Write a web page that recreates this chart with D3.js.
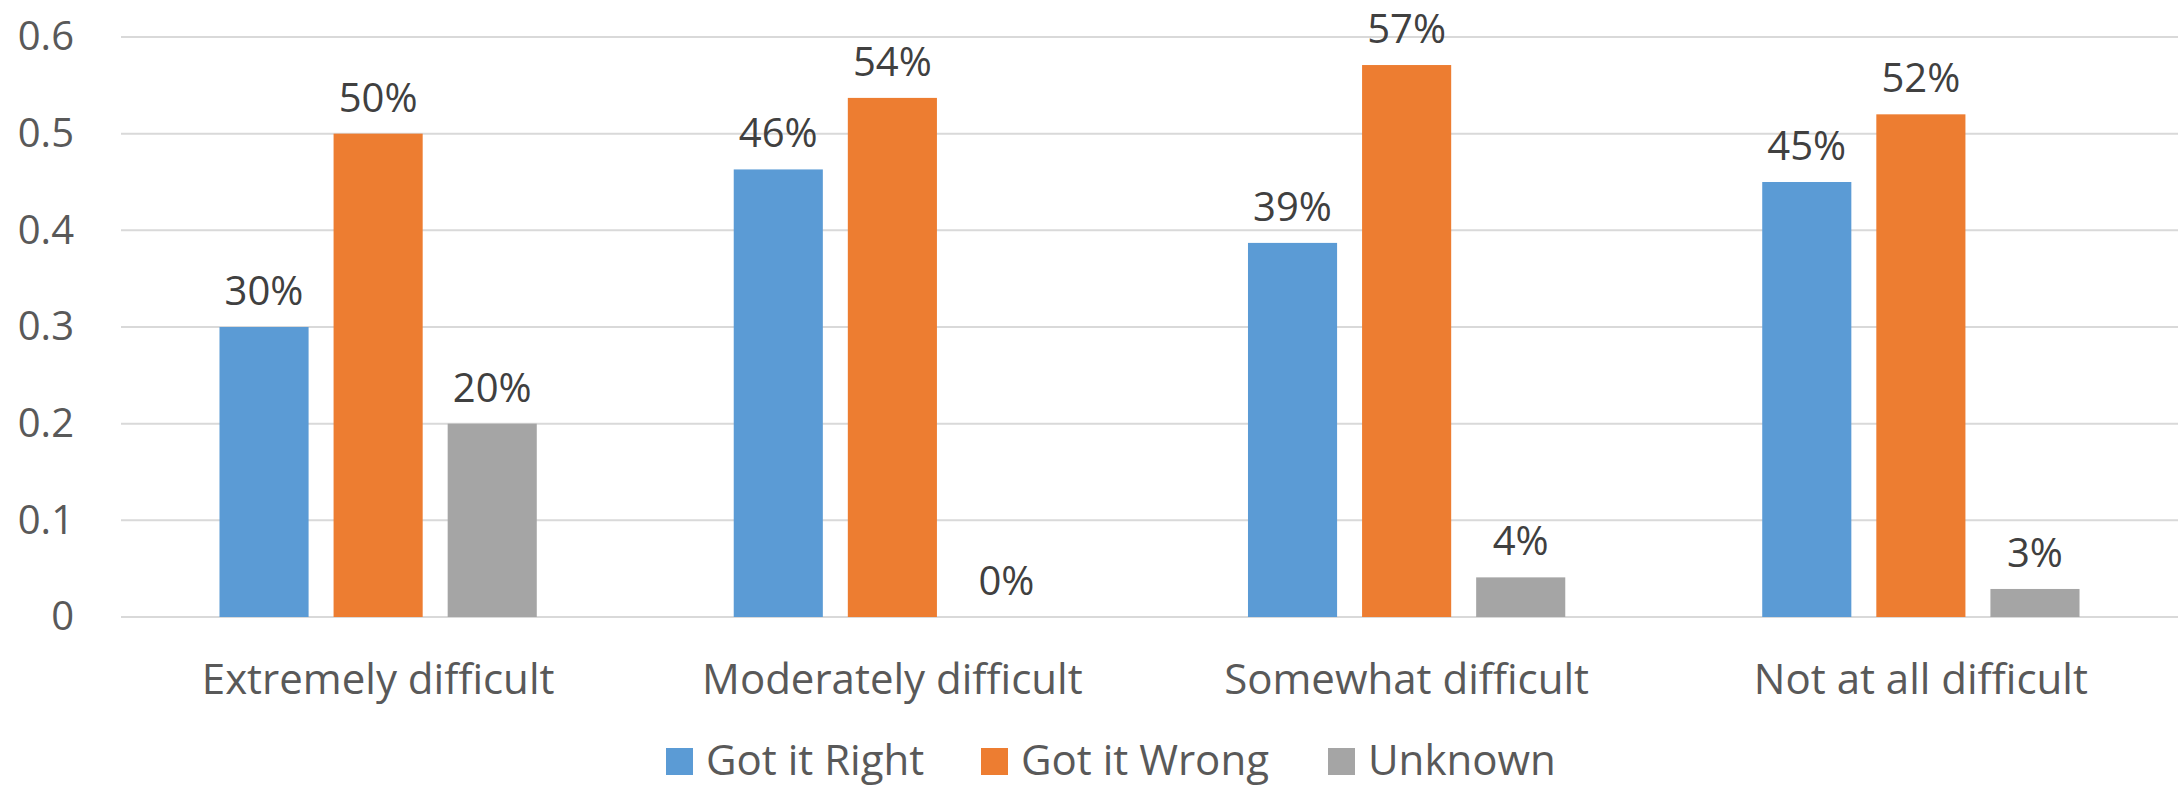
<!DOCTYPE html>
<html>
<head>
<meta charset="utf-8">
<script src="https://cdn.jsdelivr.net/npm/d3@7"></script>
<style>
  body { margin: 0; background: #fff; }
  text { font-family: "Open Sans", sans-serif; }
</style>
</head>
<body>
<div id="viz"></div>
<script>
/* ===== Data ===== */
const categories = ['Extremely difficult', 'Moderately difficult', 'Somewhat difficult', 'Not at all difficult'];
const seriesNames = ['Got it Right', 'Got it Wrong', 'Unknown'];
const gotRight = [0.30, 0.463, 0.387, 0.45];
const gotWrong = [0.50, 0.537, 0.571, 0.52];
const unknown = [0.20, 0, 0.041, 0.029];
const yTicks = [0, 0.1, 0.2, 0.3, 0.4, 0.5, 0.6];
const colors = ['#5B9BD5', '#ED7D31', '#A5A5A5'];

const seriesValues = [gotRight, gotWrong, unknown];

/* ===== Dimensions ===== */
const width = 2178;
const height = 786;
const margin = { top: 37, right: 0, bottom: 169, left: 121 };
const boundedWidth = width - margin.left - margin.right;
const boundedHeight = height - margin.top - margin.bottom;

const svg = d3.select('#viz')
  .append('svg')
  .attr('width', width)
  .attr('height', height);

const viz = svg.append('g')
  .attr('transform', `translate(${margin.left}, ${margin.top})`);

/* ===== Scales ===== */
const x0 = d3.scaleBand()
  .domain(categories)
  .range([0, boundedWidth])
  .paddingInner(0.383)
  .paddingOuter(0.1915);

const x1 = d3.scaleBand()
  .domain(seriesNames)
  .range([0, x0.bandwidth()])
  .paddingInner(0.219);

const yScale = d3.scaleLinear()
  .domain([0, 0.6])
  .range([boundedHeight, 0]);

const fmt = d3.format('.0%');

/* ===== Gridlines ===== */
viz.append('g')
  .selectAll('line')
  .data(yTicks)
  .join('line')
  .attr('x1', 0)
  .attr('x2', boundedWidth)
  .attr('y1', d => yScale(d))
  .attr('y2', d => yScale(d))
  .attr('stroke', '#d9d9d9')
  .attr('stroke-width', 2);

// y axis labels
const yAxis = d3.axisLeft(yScale)
  .tickValues(yTicks)
  .tickFormat(d => d3.format('')(+d.toFixed(1)))
  .tickSize(0)
  .tickPadding(47);

viz.append('g')
  .call(yAxis)
  .call(g => g.select('.domain').remove())
  .call(g => g.selectAll('text')
    .attr('font-size', 40)
    .attr('fill', '#595959')
    .attr('font-family', '"Open Sans", sans-serif'));

/* ===== Bars ===== */
const rows = categories.map((c, i) => ({
  category: c,
  values: seriesNames.map((s, j) => ({ series: s, value: seriesValues[j][i], color: colors[j] }))
}));

const groups = viz.selectAll('.group')
  .data(rows)
  .join('g')
  .attr('class', 'group')
  .attr('transform', d => `translate(${x0(d.category)}, 0)`);

groups.selectAll('rect')
  .data(d => d.values)
  .join('rect')
  .attr('x', d => x1(d.series))
  .attr('y', d => yScale(d.value))
  .attr('width', x1.bandwidth())
  .attr('height', d => boundedHeight - yScale(d.value))
  .attr('fill', d => d.color);

groups.selectAll('.label')
  .data(d => d.values)
  .join('text')
  .attr('class', 'label')
  .attr('x', d => x1(d.series) + x1.bandwidth() / 2)
  .attr('y', d => yScale(d.value) - 22)
  .attr('text-anchor', 'middle')
  .attr('font-size', 40)
  .attr('fill', '#404040')
  .text(d => fmt(d.value));

// category labels
viz.append('g')
  .selectAll('text')
  .data(categories)
  .join('text')
  .attr('x', d => x0(d) + x0.bandwidth() / 2)
  .attr('y', boundedHeight + 77)
  .attr('text-anchor', 'middle')
  .attr('font-size', 42)
  .attr('fill', '#595959')
  .text(d => d);

/* ===== Legend ===== */
const legend = svg.append('g')
  .attr('transform', 'translate(666, 748)');

const legendOffsets = [0, 315, 662];
seriesNames.forEach((name, i) => {
  const item = legend.append('g').attr('transform', `translate(${legendOffsets[i]}, 0)`);
  item.append('rect')
    .attr('width', 27)
    .attr('height', 27)
    .attr('fill', colors[i]);
  item.append('text')
    .attr('x', 40)
    .attr('y', 27)
    .attr('font-size', 42)
    .attr('fill', '#595959')
    .text(name);
});
</script>
</body>
</html>
